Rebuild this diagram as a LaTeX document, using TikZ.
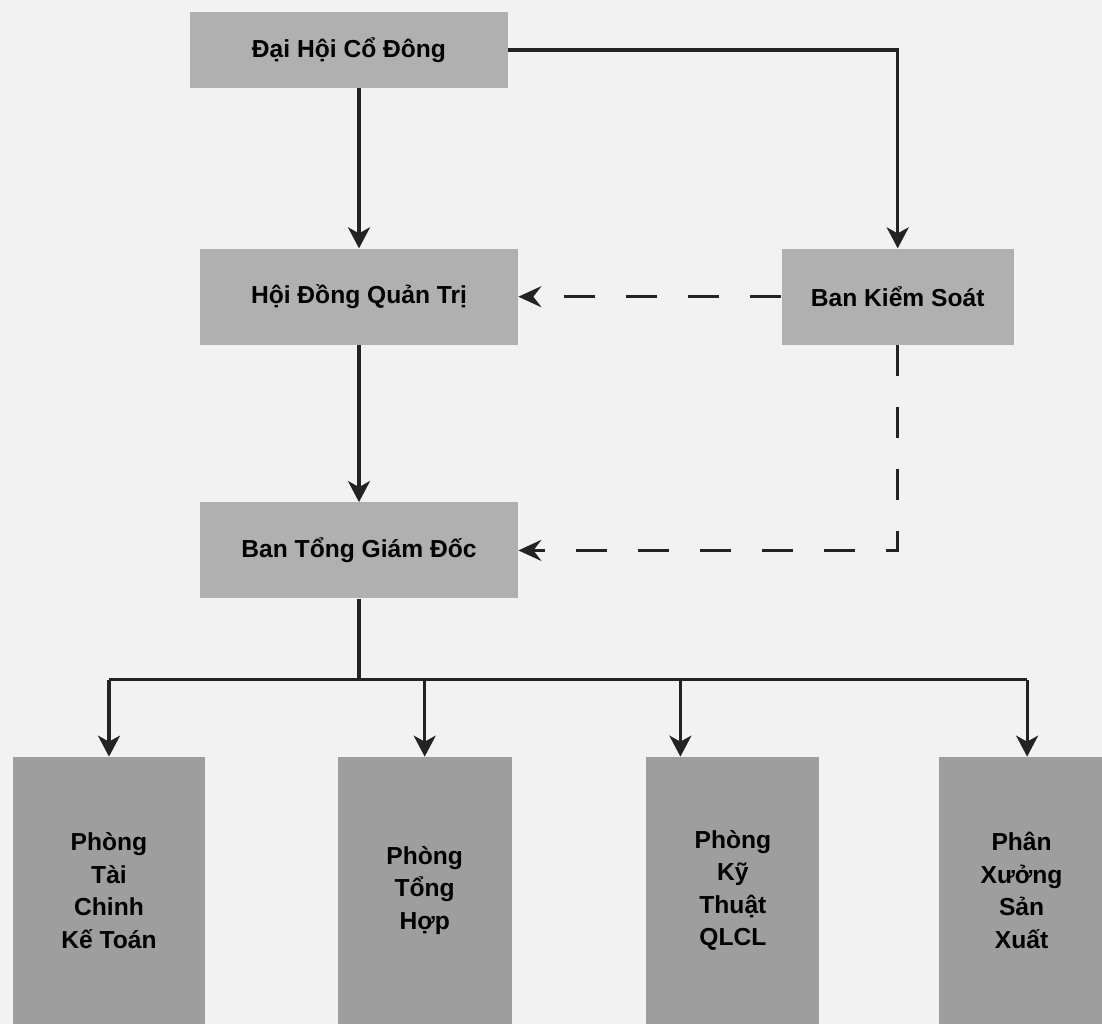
\documentclass[tikz,border=0pt]{standalone}
\usepackage{fontspec}
\setmainfont{Liberation Sans}
\usepackage{tikz}
\usetikzlibrary{arrows.meta, positioning, calc}
\definecolor{boxgray}{RGB}{176,176,176}
\definecolor{deptgray}{RGB}{158,158,158}
\definecolor{paper}{RGB}{242,242,242}
\definecolor{inkline}{RGB}{35,35,35}

\begin{document}
\begin{tikzpicture}
    % Styles
    \tikzstyle{board} = [rectangle, minimum width=6.36cm, minimum height=1.92cm, text centered, fill=boxgray, font=\fontsize{14}{17}\selectfont\bfseries, inner sep=0pt]
    \tikzstyle{dept} = [rectangle, minimum height=5.34cm, align=center, fill=deptgray, font=\fontsize{14}{18.5}\selectfont\bfseries, inner sep=0pt]
    \tikzstyle{link} = [draw=inkline, line width=1.8pt, -{Stealth[length=0.42cm, width=0.44cm, inset=0.12cm]}]
    \tikzstyle{bus} = [draw=inkline, line width=1.8pt]
    \tikzstyle{watch} = [draw=inkline, line width=1.9pt, dash pattern=on 0.62cm off 0.62cm, -{Stealth[length=0.46cm, width=0.42cm, inset=0.16cm]}]

    % Canvas
    \fill[paper] (0,0) rectangle (22.04,-20.48);
    \useasboundingbox (0,0) rectangle (22.04,-20.48);

    % Nodes
    \node (dhcd) [board, minimum height=1.52cm] at (6.98,-1.00) {Đại Hội Cổ Đông};
    \node (hdqt) [board, below=3.2cm of dhcd, xshift=0.2cm] {Hội Đồng Quản Trị};
    \node (bks) [board, minimum width=4.64cm, right=5.26cm of hdqt] {Ban Kiểm Soát};
    \node (btgd) [board, below=3.14cm of hdqt] {Ban Tổng Giám Đốc};

    \node (tckt) [dept, minimum width=3.84cm] at (2.18,-17.81) {Phòng\\Tài\\Chinh\\Kế Toán};
    \node (tonghop) [dept, minimum width=3.48cm, right=2.64cm of tckt] {Phòng\\Tổng\\Hợp};
    \node (kythuat) [dept, minimum width=3.46cm, right=2.68cm of tonghop] {Phòng\\Kỹ\\Thuật\\QLCL};
    \node (xuong) [dept, minimum width=3.30cm, right=2.38cm of kythuat] {Phân\\Xưởng\\Sản\\Xuất};

    % Connections
    \draw[link] (dhcd.south -| hdqt.north) -- (hdqt.north);
    \draw[link] (dhcd.east) -| (bks.north);
    \draw[link] (hdqt) -- (btgd);
    \draw[watch] (bks.west) -- (hdqt.east);
    \draw[watch] (bks.south) |- (btgd.east);

    % Bus to departments
    \coordinate[below=1.62cm of btgd.south] (split);
    \coordinate (j3) at ($(split -| kythuat.north)+(-1.05,0)$);
    \coordinate (j4) at ($(split -| xuong.north)+(0.11,0)$);
    \draw[bus] (btgd.south) -- (split);
    \draw[bus] (split -| tckt.north) -- (j4);
    \draw[link] (split -| tckt.north) -- (tckt.north);
    \draw[link] (split -| tonghop.north) -- (tonghop.north);
    \draw[link] (j3) -- (j3 |- kythuat.north);
    \draw[link] (j4) -- (j4 |- xuong.north);
\end{tikzpicture}
\end{document}
